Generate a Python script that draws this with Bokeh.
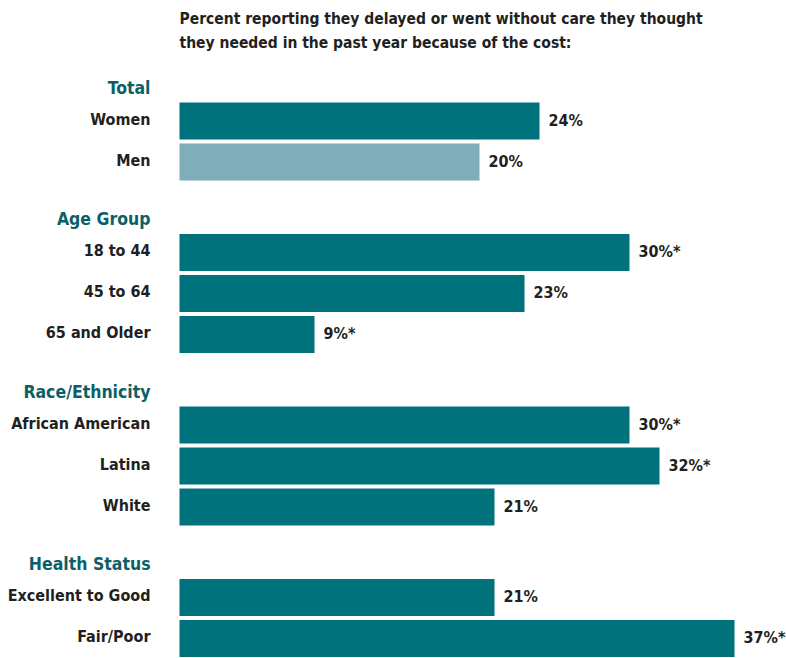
from bokeh.plotting import figure
from bokeh.models import Range1d, ColumnDataSource
from bokeh.core.properties import value
from bokeh.embed import file_html
from bokeh.resources import INLINE

# ---- data ----
title_lines = ["Percent reporting they delayed or went without care they thought",
               "they needed in the past year because of the cost:"]
groups = ["Total", "Age Group", "Race/Ethnicity", "Health Status"]
group_items = [["Women", "Men"],
               ["18 to 44", "45 to 64", "65 and Older"],
               ["African American", "Latina", "White"],
               ["Excellent to Good", "Fair/Poor"]]
group_values = [[24, 20], [30, 23, 9], [30, 32, 21], [21, 37]]
group_sig = [[False, False], [True, False, True], [True, True, False], [False, True]]
highlight_light = ["Men"]

# ---- style ----
FONT = "'Liberation Sans Narrow', 'DejaVu Sans Condensed', 'Roboto Condensed', 'Arial Narrow', sans-serif"
TEAL = "#00727b"
LIGHT = "#7faeb8"
HEAD = "#0c5f67"
DARK = "#231f20"

W, H = 786, 658
PX_PER_UNIT = 15.0
ZERO_X = 179          # px where value 0 sits
LABEL_GAP = 29        # px from zero to right edge of category labels
PITCH = 41
HEAD_OFF = 33.5
GROUP_GAP = 57
BAR_H = 37
TOP0 = 87             # y (px, top-down) of first header

p = figure(width=W, height=H, output_backend="svg", toolbar_location=None,
           min_border=0, outline_line_color=None,
           x_range=Range1d(-ZERO_X / PX_PER_UNIT, (W - ZERO_X) / PX_PER_UNIT),
           y_range=Range1d(H, 0))
p.axis.visible = False
p.grid.visible = False
p.background_fill_color = "white"
p.border_fill_color = "white"

# layout
head_y, cats, ys, vals, colors, vlabels = [], [], [], [], [], []
y = TOP0
for gi, g in enumerate(groups):
    head_y.append(y)
    y += HEAD_OFF
    for ii, item in enumerate(group_items[gi]):
        cats.append(item)
        ys.append(y)
        v = group_values[gi][ii]
        vals.append(v)
        colors.append(LIGHT if item in highlight_light else TEAL)
        vlabels.append(f"{v}%" + ("*" if group_sig[gi][ii] else ""))
        if ii < len(group_items[gi]) - 1:
            y += PITCH
    y += GROUP_GAP

src = ColumnDataSource(dict(cat=cats, y=ys, v=vals, c=colors, lab=vlabels,
                            zero=[0] * len(cats)))
p.hbar(y="y", left="zero", right="v", height=BAR_H, fill_color="c",
       line_color=None, source=src)

# category labels
p.text(x="zero", y="y", text="cat", source=src, x_offset=-LABEL_GAP, y_offset=-2,
       text_align="right", text_baseline="middle", text_font=value(FONT),
       text_font_style="bold", text_font_size="16px", text_color=DARK)
# value labels
p.text(x="v", y="y", text="lab", source=src, x_offset=9, y_offset=-1,
       text_align="left", text_baseline="middle", text_font=value(FONT),
       text_font_style="bold", text_font_size="16px", text_color=DARK)
# group headers
hsrc = ColumnDataSource(dict(g=groups, y=head_y, zero=[0] * len(groups)))
p.text(x="zero", y="y", text="g", source=hsrc, x_offset=-LABEL_GAP,
       text_align="right", text_baseline="middle", text_font=value(FONT),
       text_font_style="bold", text_font_size="17.5px", text_color=HEAD)
# title
tsrc = ColumnDataSource(dict(t=title_lines, y=[18, 42], zero=[0, 0]))
p.text(x="zero", y="y", text="t", source=tsrc,
       text_align="left", text_baseline="middle", text_font=value(FONT),
       text_font_style="bold", text_font_size="15.5px", text_color=DARK)

open("out.html", "w").write(file_html(p, INLINE))
